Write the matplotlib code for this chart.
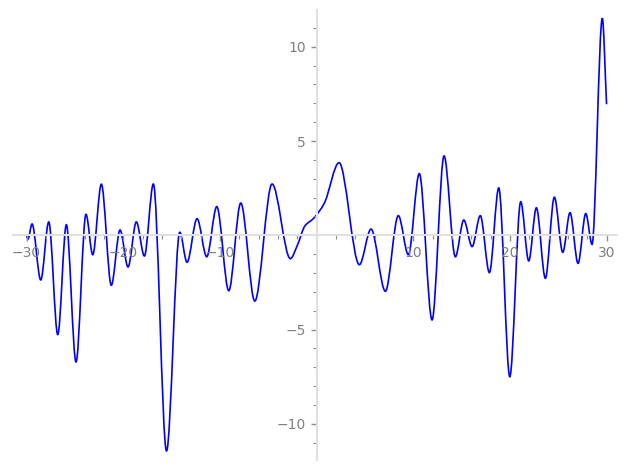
import numpy as np
import matplotlib
matplotlib.use("Agg")
import matplotlib.pyplot as plt
from matplotlib.path import Path
from matplotlib.patches import PathPatch
from matplotlib.ticker import MultipleLocator, FixedLocator

# points (mostly peaks and troughs)
xs = [-30.0, -29.85, -29.43, -28.53, -27.70, -26.77, -25.88, -24.88, -23.85, -23.15,
      -22.26, -21.23, -20.33, -19.50, -18.64, -17.81, -16.88, -15.52, -14.15, -13.40,
      -12.36, -11.36, -10.32, -9.08, -7.84, -6.39, -4.60, -2.71, -2.00, -1.20,
      -0.30, 0.80, 2.33, 4.43, 5.64, 7.12, 8.46, 9.50, 10.63, 11.95,
      13.19, 14.36, 15.23, 16.09, 16.94, 17.88, 18.85, 19.99, 21.12, 21.95,
      22.74, 23.67, 24.60, 25.47, 26.22, 27.05, 27.85, 28.50, 29.56, 30.0]
ys = [0.0, -0.2, 0.60, -2.37, 0.71, -5.27, 0.56, -6.72, 1.11, -1.03,
      2.71, -2.65, 0.28, -1.68, 0.71, -1.10, 2.72, -11.44, 0.16, -1.43,
      0.88, -1.14, 1.52, -2.94, 1.71, -3.49, 2.72, -1.24, -0.55, 0.50,
      0.90, 1.70, 3.85, -1.56, 0.33, -2.97, 1.04, -1.03, 3.27, -4.49,
      4.21, -1.14, 0.81, -0.60, 1.04, -1.98, 2.51, -7.50, 1.78, -1.36,
      1.46, -2.28, 2.02, -0.90, 1.20, -1.49, 1.15, -0.48, 11.51, 6.95]

x_major = [-30, -20, -10, 10, 20, 30]
y_major = [-10, -5, 5, 10]


def slopes(x, y):
    # monotone (pchip style) tangents so peaks stay flat
    h = np.diff(x)
    d = np.diff(y) / h
    m = np.zeros(len(x))
    for k in range(1, len(x) - 1):
        if d[k - 1] * d[k] > 0:
            w1 = 2 * h[k] + h[k - 1]
            w2 = h[k] + 2 * h[k - 1]
            m[k] = (w1 + w2) / (w1 / d[k - 1] + w2 / d[k])
    m[0] = d[0]
    m[-1] = d[-1]
    return m


x = np.array(xs)
y = np.array(ys)
m = slopes(x, y)

verts = [(x[0], y[0])]
codes = [Path.MOVETO]
for k in range(len(x) - 1):
    h = x[k + 1] - x[k]
    verts += [(x[k] + h / 3, y[k] + m[k] * h / 3),
              (x[k + 1] - h / 3, y[k + 1] - m[k + 1] * h / 3),
              (x[k + 1], y[k + 1])]
    codes += [Path.CURVE4] * 3

fig = plt.figure(figsize=(6.27, 4.7), dpi=100)
ax = fig.add_axes([13 / 627, 10 / 470, 604 / 627, 450 / 470])
ax.add_patch(PathPatch(Path(verts, codes), fill=False, edgecolor="blue", lw=1.2))

ax.set_xlim(-31.4, 31.08)
ax.set_ylim(-11.92, 11.95)

for side in ["top", "right"]:
    ax.spines[side].set_visible(False)
for side in ["left", "bottom"]:
    ax.spines[side].set_position(("data", 0))
    ax.spines[side].set_color("#e0e0e0")
    ax.spines[side].set_linewidth(1.5)

ax.xaxis.set_major_locator(FixedLocator(x_major))
ax.yaxis.set_major_locator(FixedLocator(y_major))
ax.xaxis.set_minor_locator(MultipleLocator(2))
ax.yaxis.set_minor_locator(MultipleLocator(1))
ax.tick_params(which="major", length=4, width=1, color="#8c8c8c",
               labelcolor="#7f7f7f", labelsize=10)
ax.tick_params(which="minor", length=3, width=0.8, color="#8c8c8c")

fig.savefig("out.png", dpi=100)
